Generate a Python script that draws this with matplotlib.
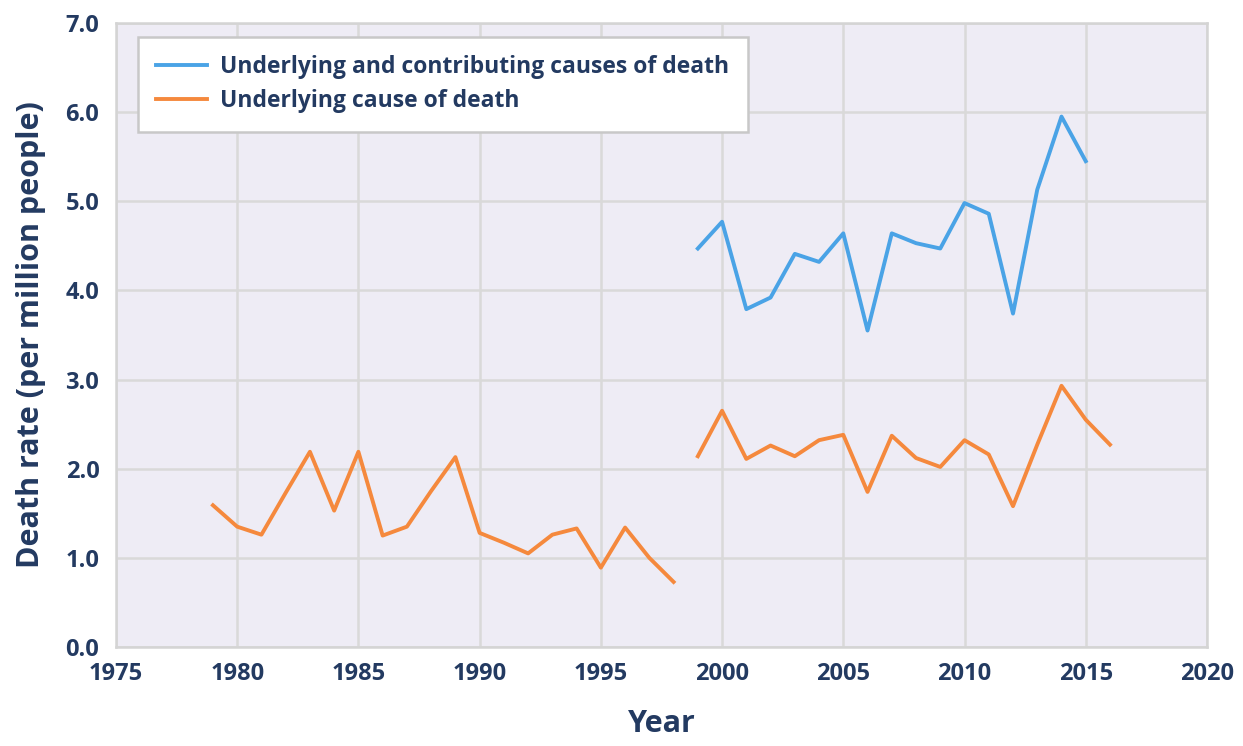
import numpy as np
import matplotlib
matplotlib.use("Agg")
import matplotlib.pyplot as plt

# data
years_underlying = list(range(1979, 1999))
underlying_early = [1.59, 1.35, 1.26, 1.73, 2.19, 1.53, 2.19, 1.25, 1.35, 1.75,
                    2.13, 1.28, 1.17, 1.05, 1.26, 1.33, 0.89, 1.34, 1.00, 0.73]
years_late = list(range(1999, 2017))
underlying_late = [2.14, 2.65, 2.11, 2.26, 2.14, 2.32, 2.38, 1.74, 2.37, 2.12,
                   2.02, 2.32, 2.16, 1.58, 2.27, 2.93, 2.55, 2.27]
years_contrib = list(range(1999, 2016))
contributing = [4.47, 4.77, 3.79, 3.92, 4.41, 4.32, 4.64, 3.55, 4.64, 4.53,
                4.47, 4.98, 4.86, 3.74, 5.13, 5.95, 5.45]

x_ticks = list(range(1975, 2021, 5))
y_ticks = np.arange(0, 7.1, 1.0)

NAVY = "#233a61"
BLUE = "#4aa3e6"
ORANGE = "#f5893d"

plt.rcParams['font.family'] = ['Open Sans', 'DejaVu Sans']

fig = plt.figure(figsize=(12.43, 7.46), dpi=100)
ax = fig.add_axes([0.0933, 0.1327, 0.8777, 0.8365])
ax.set_facecolor("#eeecf5")

ax.plot(years_contrib, contributing, color=BLUE, lw=2.8,
        label="Underlying and contributing causes of death")
ax.plot(years_underlying, underlying_early, color=ORANGE, lw=2.8,
        label="Underlying cause of death")
ax.plot(years_late, underlying_late, color=ORANGE, lw=2.8)

ax.set_xlim(1975, 2020)
ax.set_ylim(0, 7)
ax.set_xticks(x_ticks)
ax.set_yticks(y_ticks)
ax.set_yticklabels([f"{v:.1f}" for v in y_ticks])
ax.grid(True, color="#d9d9d9", lw=1.8)
ax.set_axisbelow(True)
for s in ax.spines.values():
    s.set_color("#d4d4d4"); s.set_linewidth(1.8)

ax.tick_params(length=0, labelsize=17, labelcolor=NAVY)
ax.tick_params(axis='x', pad=11)
ax.tick_params(axis='y', pad=12)
for lbl in ax.get_xticklabels() + ax.get_yticklabels():
    lbl.set_fontweight('bold')

ax.set_xlabel("Year", fontsize=22, fontweight='bold', color=NAVY, labelpad=16)
ax.set_ylabel("Death rate (per million people)", fontsize=22, fontweight='bold',
              color=NAVY, labelpad=14)

leg = ax.legend(loc="upper left", bbox_to_anchor=(0.02, 0.978), borderaxespad=0,
                fancybox=False, framealpha=1, edgecolor="#c8c8c8",
                prop={'size': 16.5, 'weight': 'bold'},
                handlelength=2.2, handletextpad=0.6, borderpad=0.8,
                labelspacing=0.45)
leg.get_frame().set_linewidth(1.8)
for t in leg.get_texts():
    t.set_color(NAVY)

fig.savefig("out.png", dpi=100)
